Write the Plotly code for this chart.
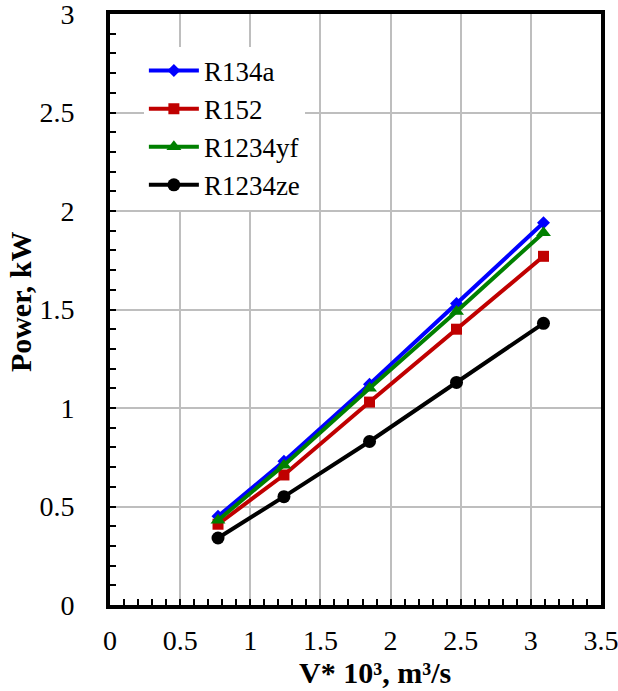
import plotly.graph_objects as go

flow = [0.77, 1.24, 1.85, 2.47, 3.09]
r134a = [0.45, 0.73, 1.12, 1.53, 1.94]
r152 = [0.41, 0.66, 1.03, 1.40, 1.77]
r1234yf = [0.43, 0.71, 1.10, 1.49, 1.89]
r1234ze = [0.34, 0.55, 0.83, 1.13, 1.43]

x_title = "V* 10³, m³/s"
y_title = "Power, kW"

series = [
    ("R134a", r134a, "#0000FF", "diamond", 10),
    ("R152", r152, "#C00000", "square", 11),
    ("R1234yf", r1234yf, "#008000", "triangle-up", 13),
    ("R1234ze", r1234ze, "#000000", "circle", 13),
]

fig = go.Figure()
for name, ys, color, sym, sz in series:
    fig.add_trace(go.Scatter(
        x=flow, y=ys, name=name, mode="lines+markers",
        line=dict(color=color, width=4),
        marker=dict(symbol=sym, size=sz, color=color),
    ))

font_family = "Liberation Serif"

fig.update_layout(
    width=618, height=691,
    margin=dict(l=110, r=17, t=14, b=86),
    paper_bgcolor="white", plot_bgcolor="white",
    font=dict(family=font_family, color="black", size=28),
    showlegend=True,
    legend=dict(
        x=0.069, y=0.945, xanchor="left", yanchor="top",
        bgcolor="white", borderwidth=0,
        font=dict(family=font_family, size=27, color="black"),
        itemwidth=50, tracegroupgap=0,
    ),
    xaxis=dict(
        range=[0, 3.5], dtick=0.5, automargin=False,
        showgrid=True, gridcolor="#BEBEBE", gridwidth=1.5,
        showline=True, linecolor="black", linewidth=4, mirror=True,
        ticks="inside", ticklen=6, tickcolor="black", tickwidth=1.5,
        minor=dict(dtick=0.1, ticks="inside", ticklen=6, tickcolor="black", tickwidth=1.5, showgrid=False),
        zeroline=False,
        tickfont=dict(family=font_family, size=28),
        ticklabelstandoff=7, ticklabeloverflow="allow",
    ),
    yaxis=dict(
        range=[0, 3], dtick=0.5, automargin=False,
        showgrid=True, gridcolor="#BEBEBE", gridwidth=1.5,
        showline=True, linecolor="black", linewidth=4, mirror=True,
        ticks="inside", ticklen=6, tickcolor="black", tickwidth=1.5,
        minor=dict(dtick=0.1, ticks="inside", ticklen=6, tickcolor="black", tickwidth=1.5, showgrid=False),
        zeroline=False,
        tickfont=dict(family=font_family, size=28),
        ticklabelstandoff=26, ticklabeloverflow="allow",
    ),
    annotations=[
        dict(text="<b>" + x_title + "</b>", xref="paper", yref="paper",
             x=0.54, y=-0.1134, xanchor="center", yanchor="middle",
             showarrow=False, font=dict(family=font_family, size=30, color="black")),
        dict(text="<b>" + y_title + "</b>", xref="paper", yref="paper",
             x=-0.181, y=0.5127, xanchor="center", yanchor="middle", textangle=-90,
             showarrow=False, font=dict(family=font_family, size=30, color="black")),
    ],
)

fig.write_html("out.html", config={"displayModeBar": False},
               post_script="document.body.style.margin='0';document.body.style.overflow='hidden';")
